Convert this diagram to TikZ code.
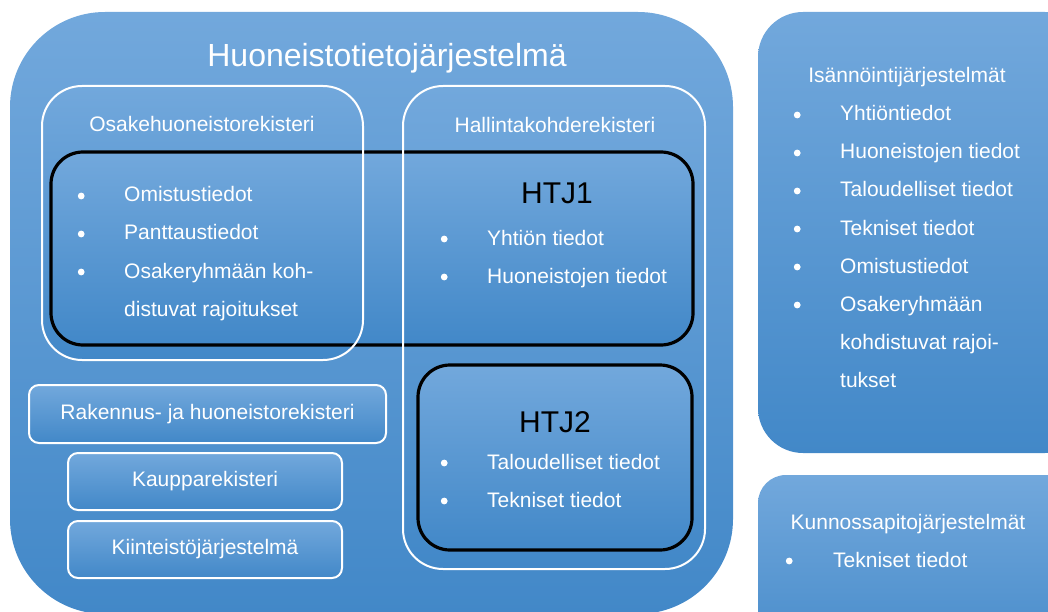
\documentclass[tikz,border=0pt]{standalone}
\usepackage{fontspec}
\setmainfont{Liberation Sans}

\definecolor{paneltop}{RGB}{114,168,220}
\definecolor{panelbot}{RGB}{66,136,200}

\tikzset{
  panel/.style={top color=paneltop,bottom color=panelbot,inner sep=0pt,outer sep=0pt},
  rim/.style={draw=white,line width=2pt},
  htj/.style={panel,draw=black,line width=3.2pt,rounded corners=32pt},
  txt/.style={text=white,font=\fontsize{21}{25}\selectfont,inner sep=0pt,anchor=base},
  item/.style={txt,anchor=base west},
  big/.style={font=\fontsize{30}{36}\selectfont,inner sep=0pt,anchor=base}
}
\newcommand{\bulletdot}{\hspace{0.6pt}\raisebox{2.6pt}{\tikz\fill[white] (0,0) circle (3.4pt);}}
\newcommand{\bul}{\makebox[47pt][l]{\bulletdot}}

\begin{document}
\begin{tikzpicture}[x=1pt,y=1pt]
      \useasboundingbox (0,0) rectangle (1048,-612);
      \clip (0,0) rectangle (1048,-612);

      % the big system and the two systems on the right
      \node[panel,minimum width=723pt,minimum height=602pt,rounded corners=95pt] (htjsys) at (371.5,-313) {};
      \node[panel,minimum width=332pt,minimum height=441pt,rounded corners=45pt] (isys) at (924,-232.5) {};
      \node[panel,minimum width=332pt,minimum height=205pt,rounded corners=28pt] (ksys) at (924,-577.5) {};

      % registers
      \node[panel,minimum width=321pt,minimum height=274pt,rounded corners=40pt] (osake) at (202.5,-223) {};
      \node[panel,minimum width=302pt,minimum height=483pt,rounded corners=40pt] (hallinta) at (554,-327.5) {};
      \node[htj,minimum width=642pt,minimum height=193pt] (htj1) at (372,-248.5) {};
      \node[htj,minimum width=274pt,minimum height=185pt] (htj2) at (555,-457.5) {};
      \draw[rim,rounded corners=40pt] (osake.south west) rectangle (osake.north east);
      \draw[rim,rounded corners=40pt] (hallinta.south west) rectangle (hallinta.north east);

      \node[panel,rim,txt,anchor=center,rounded corners=10pt,minimum width=357pt,minimum height=58pt] (rhr) at (207.5,-414) {Rakennus- ja huoneistorekisteri};
      \node[panel,rim,txt,anchor=center,rounded corners=10pt,minimum width=274pt,minimum height=57pt] (kr) at (205,-481.5) {Kaupparekisteri};
      \node[panel,rim,txt,anchor=center,rounded corners=10pt,minimum width=274pt,minimum height=57pt] (kj) at (205,-549.5) {Kiinteistöjärjestelmä};

      % texts
      \node[txt,font=\fontsize{32}{38}\selectfont] (title) at (387,-67) {Huoneistotietojärjestelmä};
      \node[txt] (osakelab) at (202,-132) {Osakehuoneistorekisteri};
      \node[txt] (hallintalab) at (555,-133) {Hallintakohderekisteri};

      \node[item] (o1) at (77,-202) {\bul Omistustiedot};
      \node[item] (o2) at (77,-240) {\bul Panttaustiedot};
      \node[item] (o3) at (77,-278) {\bul Osakeryhmään koh-};
      \node[item] (o4) at (124,-316) {distuvat rajoitukset};

      \node[big] (htj1lab) at (557,-204) {HTJ1};
      \node[item] (h1) at (440,-245) {\bul Yhtiön tiedot};
      \node[item] (h2) at (440,-283) {\bul Huoneistojen tiedot};

      \node[big] (htj2lab) at (555,-432) {HTJ2};
      \node[item] (t1) at (440,-469) {\bul Taloudelliset tiedot};
      \node[item] (t2) at (440,-507) {\bul Tekniset tiedot};

      \node[txt] (isyslab) at (907,-83) {Isännöintijärjestelmät};
      \node[item] (i1) at (793,-121) {\bul Yhtiöntiedot};
      \node[item] (i2) at (793,-159) {\bul Huoneistojen tiedot};
      \node[item] (i3) at (793,-197) {\bul Taloudelliset tiedot};
      \node[item] (i4) at (793,-235) {\bul Tekniset tiedot};
      \node[item] (i5) at (793,-273) {\bul Omistustiedot};
      \node[item] (i6) at (793,-311) {\bul Osakeryhmään};
      \node[item] (i7) at (840,-349) {kohdistuvat rajoi-};
      \node[item] (i8) at (840,-387) {tukset};

      \node[txt] (ksyslab) at (908,-529) {Kunnossapitojärjestelmät};
      \node[item] (k1) at (785,-567) {\makebox[48pt][l]{\bulletdot}Tekniset tiedot};
    \end{tikzpicture}
\end{document}
